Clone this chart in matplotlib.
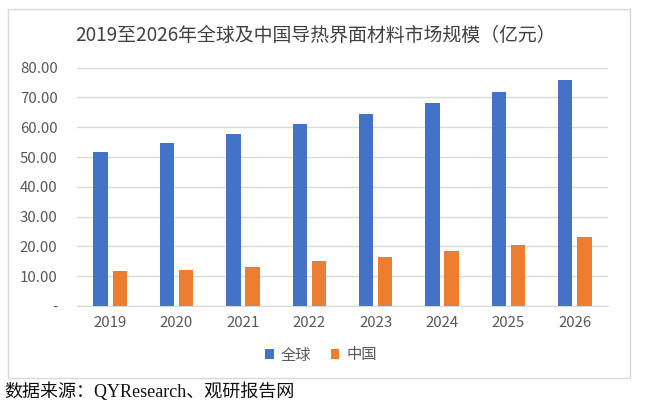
import matplotlib.pyplot as plt
import numpy as np
from matplotlib.patches import Rectangle

plt.rcParams['font.family'] = ['Noto Sans CJK SC', 'DejaVu Sans']

years = ["2019", "2020", "2021", "2022", "2023", "2024", "2025", "2026"]
global_vals = [51.8, 54.6, 57.6, 61.0, 64.4, 68.0, 71.9, 75.8]
china_vals = [11.7, 12.0, 13.2, 15.0, 16.6, 18.6, 20.5, 23.0]
yticks = [0, 10, 20, 30, 40, 50, 60, 70, 80]
ytick_labels = ["-", "10.00", "20.00", "30.00", "40.00", "50.00", "60.00", "70.00", "80.00"]

blue = "#4472C4"
orange = "#ED7D31"
grey = "#595959"

fig = plt.figure(figsize=(6.45, 4.09), dpi=100)
W, H = 645, 409

# chart border box
fig.patches.append(Rectangle((8 / W, 1 - 378 / H), (630 - 8) / W, (378 - 9) / H,
                             transform=fig.transFigure, fill=False,
                             edgecolor="#d9d9d9", linewidth=1))

ax = fig.add_axes([77 / W, 1 - 306 / H, (608 - 77) / W, (306 - 67.7) / H])

x = np.arange(len(years))
bw = 0.218
gap = 0.07
ax.bar(x - (bw + gap) / 2, global_vals, width=bw, color=blue, label="全球", zorder=3)
ax.bar(x + (bw + gap) / 2, china_vals, width=bw, color=orange, label="中国", zorder=3)

ax.set_xlim(-0.5, len(years) - 0.5)
ax.set_ylim(0, 80)
ax.set_yticks(yticks)
ax.set_yticklabels(ytick_labels)
ax.set_xticks(x)
ax.set_xticklabels(years)
ax.grid(axis="y", color="#d9d9d9", linewidth=1, zorder=0)
for s in ["top", "right", "left"]:
    ax.spines[s].set_visible(False)
ax.spines["bottom"].set_color("#d9d9d9")
ax.tick_params(axis="both", length=0, colors=grey, labelsize=10.8)
ax.tick_params(axis="x", pad=7)
ax.tick_params(axis="y", pad=14)

fig.text(316 / W, 1 - 35 / H, "2019至2026年全球及中国导热界面材料市场规模（亿元）",
         ha="center", va="center", fontsize=13.6, color="#404040")

fig.legend(loc="center", bbox_to_anchor=(321 / W, 1 - 355 / H), ncol=2, frameon=False,
           fontsize=11, handlelength=0.55, handleheight=0.55, handletextpad=0.45,
           columnspacing=1.3, labelcolor=grey)

fig.text(4 / W, 1 - 392 / H, "数据来源：QYResearch、观研报告网",
         ha="left", va="center", fontsize=13, color="#111111",
         family=["Liberation Serif", "Noto Sans CJK SC"])

fig.savefig("out.png", dpi=100)
